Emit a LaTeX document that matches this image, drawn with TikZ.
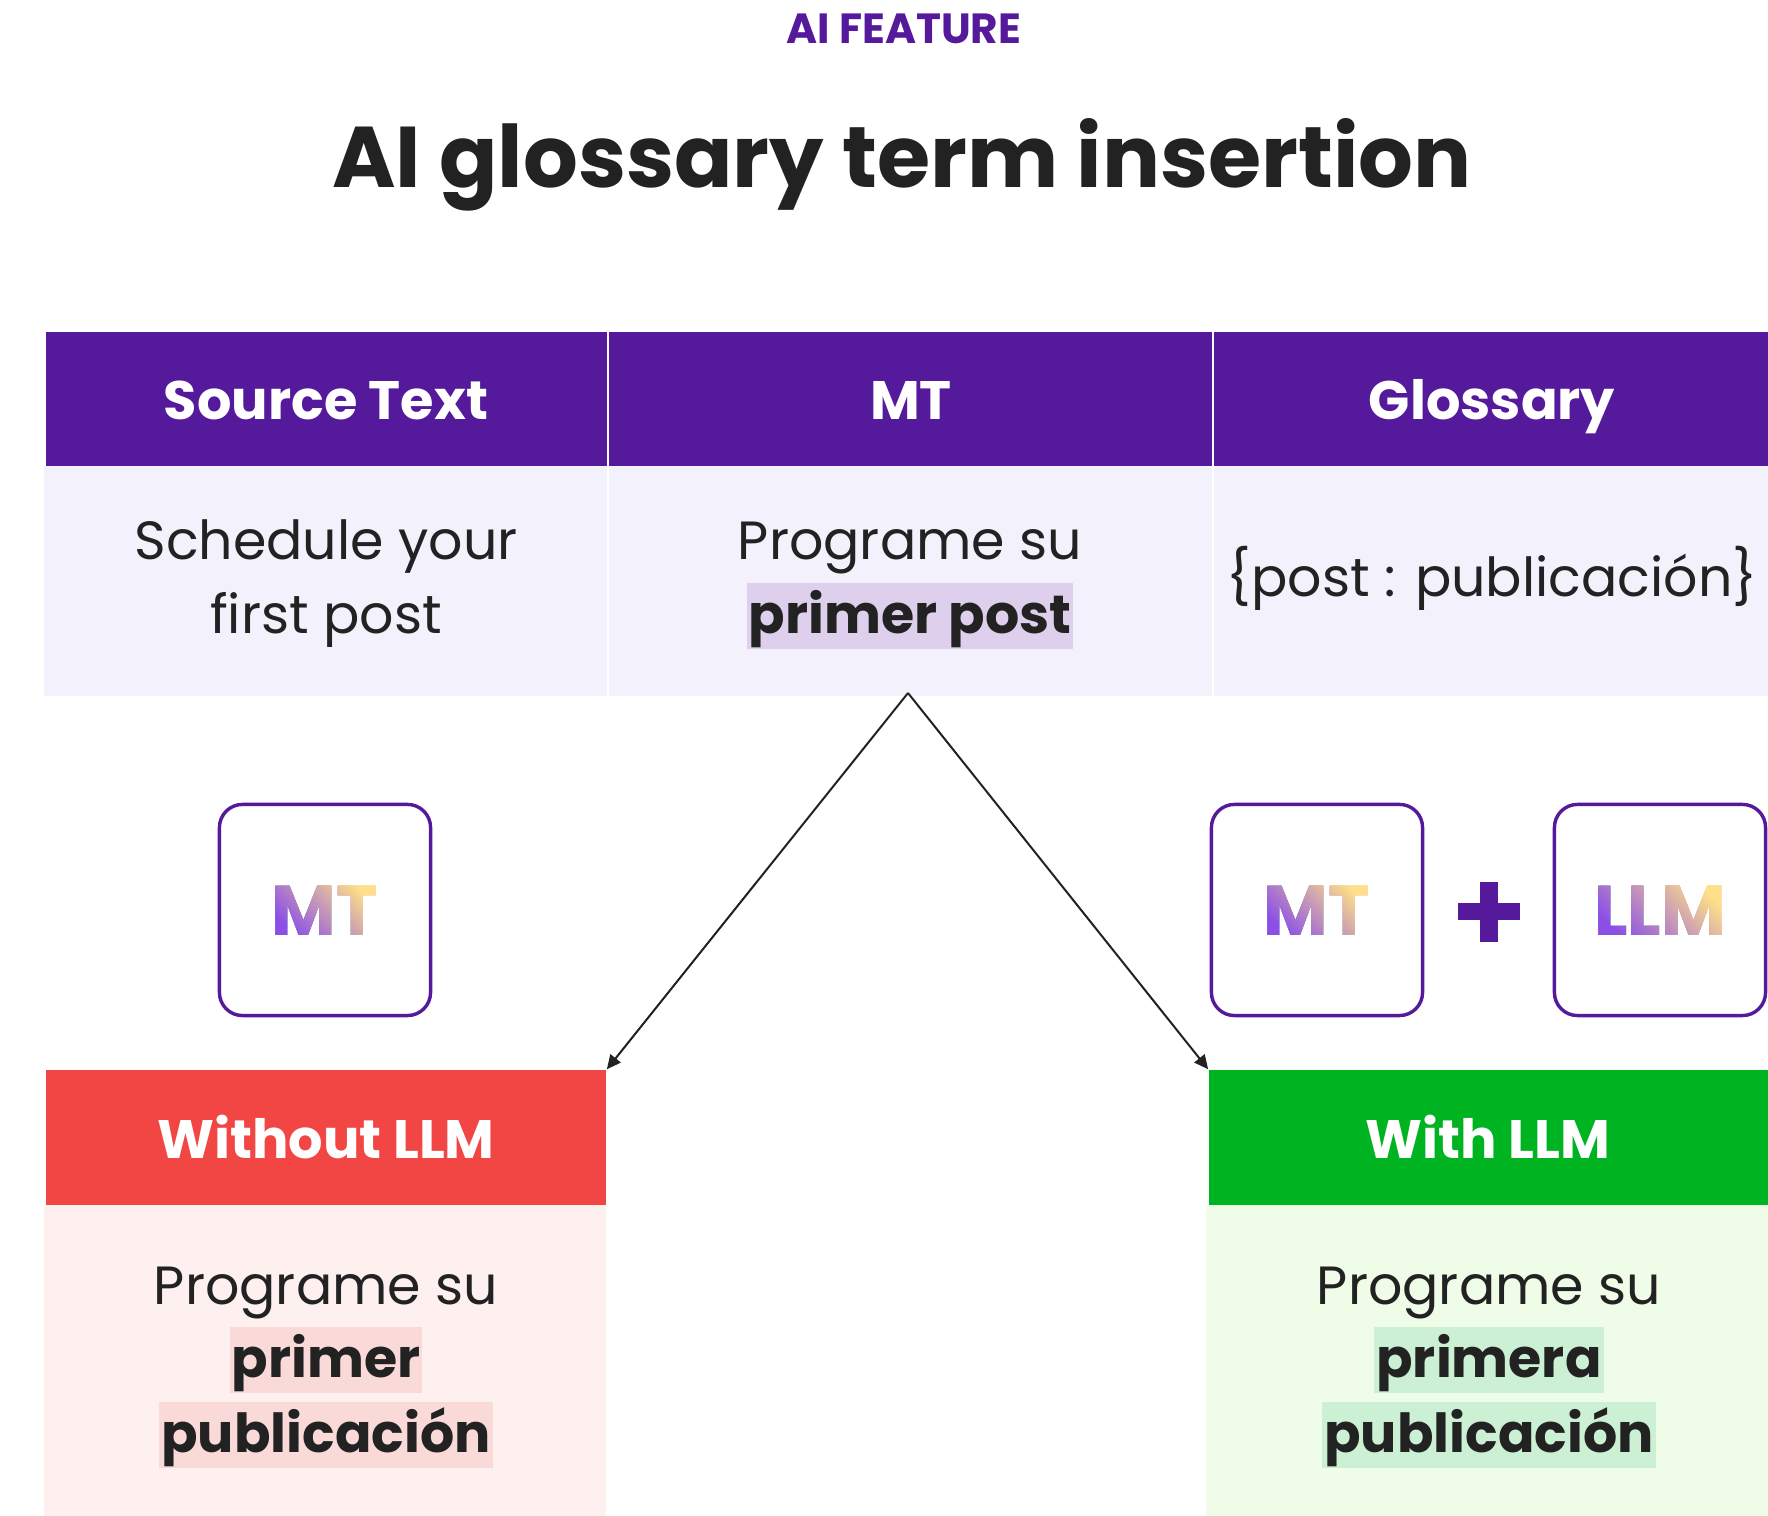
\documentclass[tikz,border=0pt]{standalone}
\usepackage{fontspec}
\setmainfont{Poppins}[Ligatures=NoCommon]
\usepackage{tikz}
\usetikzlibrary{arrows.meta}

\definecolor{brand}{HTML}{55199C}
\definecolor{ink}{HTML}{222222}
\definecolor{cellbg}{HTML}{F3F1FC}
\definecolor{cellmark}{HTML}{DED0EC}
\definecolor{badhead}{HTML}{F24645}
\definecolor{badbg}{HTML}{FDF0EF}
\definecolor{badmark}{HTML}{FAD9D9}
\definecolor{goodhead}{HTML}{00B320}
\definecolor{goodbg}{HTML}{EEFCE8}
\definecolor{goodmark}{HTML}{CCF0D3}
\definecolor{gradA}{HTML}{8B4FE6}
\definecolor{gradB}{HTML}{C67CF8}
\definecolor{gradC}{HTML}{FFDF88}

\begin{document}
\begin{tikzpicture}[
  x=0.01cm, y=-0.01cm,
  every node/.style={inner sep=0pt, text=ink},
  kicker/.style={text=brand, font=\bfseries\fontsize{12}{14}\selectfont},
  headline/.style={font=\bfseries\fontsize{24.5}{29}\selectfont},
  band/.style={rectangle, minimum height=1.34cm},
  cell/.style={rectangle, minimum height=2.30cm, fill=cellbg},
  colhead/.style={text=white, font=\bfseries\fontsize{15.4}{18}\selectfont},
  body/.style={font=\fontsize{15.3}{18}\selectfont},
  hilite/.style={font=\bfseries\fontsize{15.3}{18}\selectfont, text height=0.51cm, text depth=0.15cm, inner xsep=0.02cm},
  logo/.style={draw=brand, line width=0.034cm, rounded corners=0.23cm, minimum size=2.11cm},
  logotext/.style={text=black, font=\bfseries\fontsize{20}{24}\selectfont, text height=0.50cm, text depth=0cm},
  glow/.style={left color=gradA, middle color=gradB, right color=gradC, shading angle=135, blend mode=lighten},
  flow/.style={draw=ink, line width=0.02cm, -{Triangle[length=0.14cm,width=0.13cm]}}
]
\useasboundingbox (0,0) rectangle (1768,1516);
\fill[white] (0,0) rectangle (1768,1516);

\node[kicker, anchor=base] (kicker) at (904,44) {AI FEATURE};
\node[headline, anchor=base] (title) at (902,188) {AI glossary term insertion};

% input table
\node[band, fill=brand, minimum width=5.61cm] (hsrc) at (326.5,399.5) {};
\node[band, fill=brand, minimum width=6.03cm] (hmt) at (910.5,399.5) {};
\node[band, fill=brand, minimum width=5.56cm] (hgls) at (1492,399.5) {};
\node[cell, minimum width=5.63cm] (csrc) at (325.5,581) {};
\node[cell, minimum width=6.03cm] (cmt) at (910.5,581) {};
\node[cell, minimum width=5.56cm] (cgls) at (1492,581) {};

\node[colhead, anchor=base] (tsrc) at (326,420) {Source Text};
\node[colhead, anchor=base] (tmt) at (911,420) {MT};
\node[colhead, anchor=base] (tgls) at (1492,420) {Glossary};

\node[body, anchor=base] (src1) at (326,560) {Schedule your};
\node[body, anchor=base] (src2) at (326,634) {first post};
\node[body, anchor=base] (mt1) at (910,560) {Programe su};
\node[hilite, fill=cellmark, anchor=base] (mt2) at (910,634) {primer post};
\node[body, anchor=base] (gls) at (1492,597) {\{post : publicación\}};

% engines
\node[logo] (mtsolo) at (325,910) {};
\node[logo] (mtduo) at (1317,910) {};
\node[logo] (llm) at (1660,910) {};
\node[logotext] (mtsoloword) at (mtsolo.center) {MT};
\node[logotext] (mtduoword) at (mtduo.center) {MT};
\node[logotext] (llmword) at (llm.center) {LLM};
\shade[glow] (mtsoloword.south west) rectangle (mtsoloword.north east);
\shade[glow] (mtduoword.south west) rectangle (mtduoword.north east);
\shade[glow] (llmword.south west) rectangle (llmword.north east);
\coordinate (plus) at (1489,912);
\draw[brand, line width=0.17cm] (plus) ++(-31,0) -- ++(62,0) (plus) ++(0,-30) -- ++(0,60);

% results
\node[band, fill=badhead, minimum width=5.60cm, minimum height=1.35cm] (nohead) at (326,1137.5) {};
\node[band, fill=goodhead, minimum width=5.61cm, minimum height=1.35cm] (yeshead) at (1489.5,1137.5) {};
\node[rectangle, fill=badbg, minimum width=5.62cm, minimum height=3.15cm] (nobody) at (325,1362.5) {};
\node[rectangle, fill=goodbg, minimum width=5.64cm, minimum height=3.15cm] (yesbody) at (1488,1362.5) {};

\node[colhead, anchor=base] (tno) at (326,1159) {Without LLM};
\node[colhead, anchor=base] (tyes) at (1488,1159) {With LLM};

\node[body, anchor=base] (no1) at (326,1305) {Programe su};
\node[hilite, fill=badmark, anchor=base] (no2) at (326,1378) {primer};
\node[hilite, fill=badmark, anchor=base] (no3) at (326,1453) {publicación};
\node[body, anchor=base] (yes1) at (1489,1305) {Programe su};
\node[hilite, fill=goodmark, anchor=base] (yes2) at (1489,1378) {primera};
\node[hilite, fill=goodmark, anchor=base] (yes3) at (1489,1453) {publicación};

\coordinate (fork) at (908,693);
\draw[flow] (fork) -- (nohead.north east);
\draw[flow] (fork) -- (yeshead.north west);
\end{tikzpicture}
\end{document}
